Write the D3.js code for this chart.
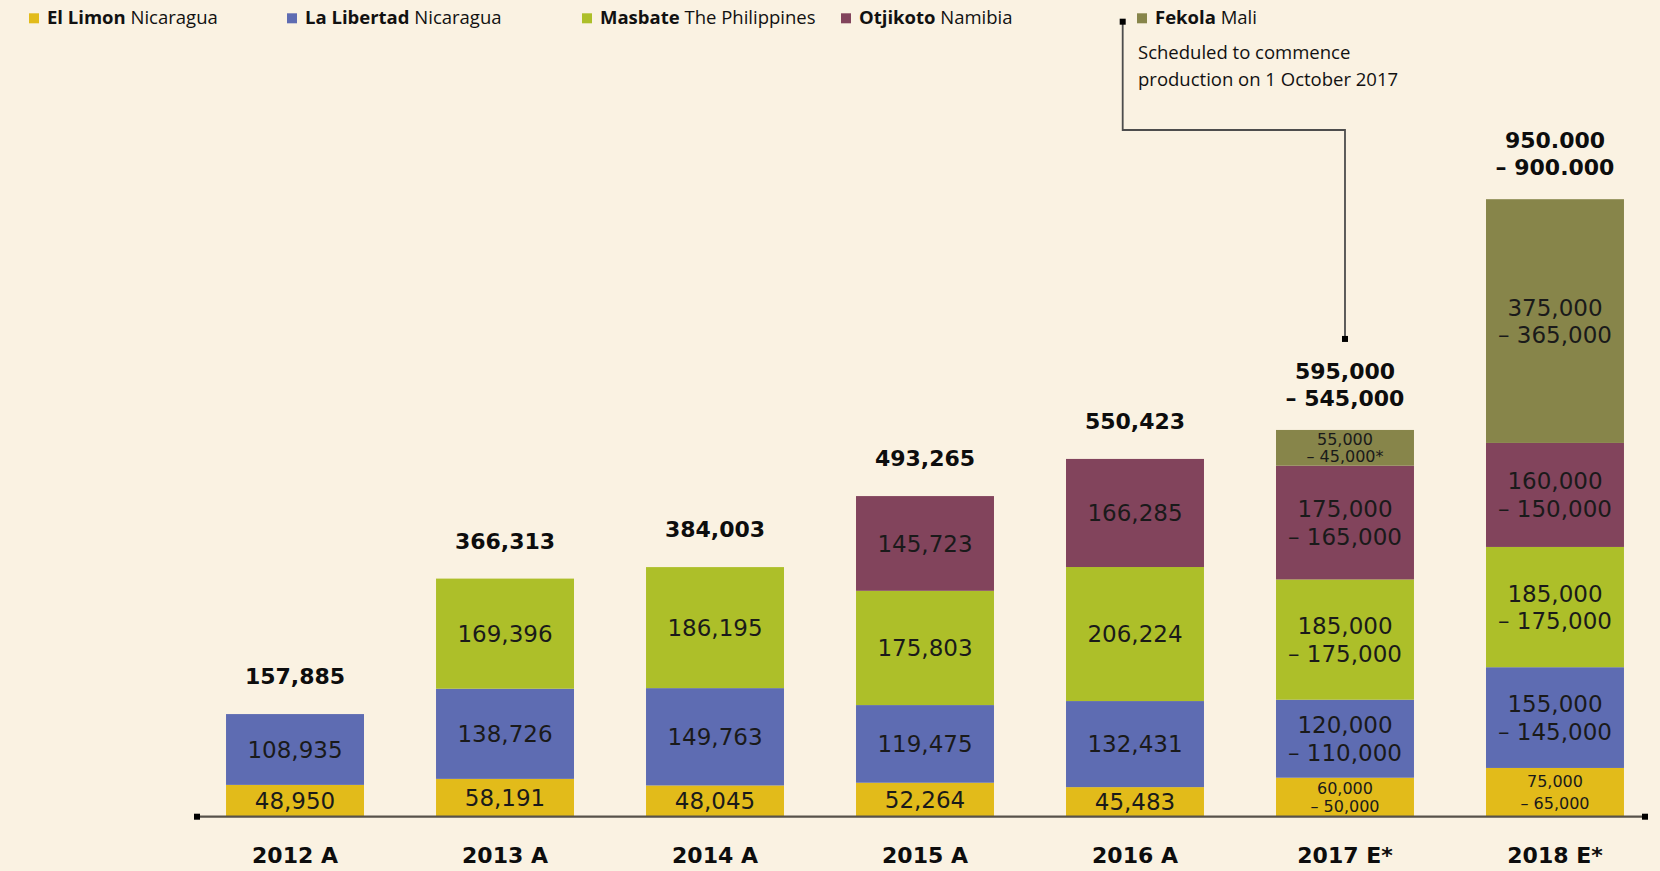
<!DOCTYPE html>
<html>
<head>
<meta charset="utf-8">
<script src="https://cdn.jsdelivr.net/npm/d3@7"></script>
<style>
  body { margin: 0; background: #faf2e2; }
  svg { display: block; }
</style>
</head>
<body>
<svg id="chart" width="1660" height="871"></svg>
<script>
// ---- data ----
const years = ["2012 A", "2013 A", "2014 A", "2015 A", "2016 A", "2017 E*", "2018 E*"];

const mineNames = ["El Limon", "La Libertad", "Masbate", "Otjikoto", "Fekola"];
const mineCountries = ["Nicaragua", "Nicaragua", "The Philippines", "Namibia", "Mali"];

// high end of each value (actuals have no range)
const elLimon    = [48950, 58191, 48045, 52264, 45483, 60000, 75000];
const laLibertad = [108935, 138726, 149763, 119475, 132431, 120000, 155000];
const masbate    = [0, 169396, 186195, 175803, 206224, 185000, 185000];
const otjikoto   = [0, 0, 0, 145723, 166285, 175000, 160000];
const fekola     = [0, 0, 0, 0, 0, 55000, 375000];

// low end of the guidance ranges
const elLimonLow    = [null, null, null, null, null, 50000, 65000];
const laLibertadLow = [null, null, null, null, null, 110000, 145000];
const masbateLow    = [null, null, null, null, null, 175000, 175000];
const otjikotoLow   = [null, null, null, null, null, 165000, 150000];
const fekolaLow     = [null, null, null, null, null, 45000, 365000];
const fekolaNote    = ["", "", "", "", "", "*", ""];

const totalLabels = [
  ["157,885"], ["366,313"], ["384,003"], ["493,265"], ["550,423"],
  ["595,000", "– 545,000"], ["950.000", "– 900.000"]
];

const fekolaText = ["Scheduled to commence", "production on 1 October 2017"];

// ---- styles ----
const colors = ["#e2bb1a", "#5e6cb2", "#adbf29", "#82445c", "#87854a"];
const keys = ["elLimon", "laLibertad", "masbate", "otjikoto", "fekola"];
const highs = [elLimon, laLibertad, masbate, otjikoto, fekola];
const lows = [elLimonLow, laLibertadLow, masbateLow, otjikotoLow, fekolaLow];

const numFont = "'DejaVu Sans', sans-serif";
const textFont = "'Open Sans', sans-serif";
const baseY = 816.7;

const svg = d3.select("#chart");
svg.append("rect").attr("width", 1660).attr("height", 871).attr("fill", "#faf2e2");

let rows = years.map((y, i) => {
  let r = { year: y, i: i };
  keys.forEach((k, j) => r[k] = highs[j][i]);
  return r;
});

let x = d3.scaleBand().domain(years).range([154, 1696]).padding(0.343);
let y = d3.scaleLinear().domain([0, 1000000]).range([baseY, baseY - 650]);

let stack = d3.stack().keys(keys);
let series = stack(rows);

const fmt = d3.format(",");

// bars
let layers = svg.append("g").selectAll("g")
  .data(series)
  .join("g")
  .attr("fill", (d, i) => colors[i]);

layers.selectAll("rect")
  .data(d => d.filter(p => p[1] - p[0] > 0))
  .join("rect")
  .attr("x", d => x(d.data.year))
  .attr("y", d => y(d[1]))
  .attr("width", x.bandwidth())
  .attr("height", d => y(d[0]) - y(d[1]));

// segment labels
let labelG = svg.append("g").attr("font-family", numFont).attr("fill", "#1a1a1a")
  .attr("text-anchor", "middle");

series.forEach((s, si) => {
  s.forEach(p => {
    if (p[1] - p[0] <= 0) return;
    let i = p.data.i;
    let cx = x(p.data.year) + x.bandwidth() / 2;
    let top = y(p[1]), bot = y(p[0]);
    let cy = (top + bot) / 2;
    let low = lows[si][i];
    let t = labelG.append("text");
    if (low == null) {
      let fs = 23;
      t.attr("font-size", fs).attr("x", cx).attr("y", cy + fs * 0.73 / 2).text(fmt(p[1] - p[0]));
    } else {
      let h = bot - top;
      let fs = h < 60 ? 16 : 23;
      let lh = h < 60 ? Math.min(22, h / 2 - 1) : 27.7;
      let cap = fs * 0.73;
      let first = cy - (lh + cap) / 2 + cap;
      let note = si === 4 ? fekolaNote[i] : "";
      t.attr("font-size", fs);
      t.append("tspan").attr("x", cx).attr("y", first).text(fmt(p[1] - p[0]));
      t.append("tspan").attr("x", cx).attr("y", first + lh).text("– " + fmt(low) + note);
    }
  });
});

// totals above bars
let tops = rows.map((r, i) => y(d3.sum(highs, h => h[i])));
let annotEndY = 0;
totalLabels.forEach((lines, i) => {
  let cx = x(years[i]) + x.bandwidth() / 2;
  let gap = lines.length > 1 ? 24 : 30;
  let lastBase = tops[i] - gap;
  let lh = 27;
  let t = svg.append("text").attr("font-family", numFont).attr("font-weight", "bold")
    .attr("font-size", 22).attr("text-anchor", "middle").attr("fill", "#0d0d0d");
  lines.forEach((l, k) => {
    t.append("tspan").attr("x", cx).attr("y", lastBase - (lines.length - 1 - k) * lh).text(l);
  });
  if (i === 5) annotEndY = lastBase - (lines.length - 1) * lh - 16 - 24;
});

// x axis line and year labels
let axisG = svg.append("g");
axisG.append("line").attr("x1", 197).attr("x2", 1645).attr("y1", baseY).attr("y2", baseY)
  .attr("stroke", "#57524a").attr("stroke-width", 2.2);
[197, 1645].forEach(px => axisG.append("rect").attr("x", px - 3).attr("y", baseY - 3)
  .attr("width", 6).attr("height", 6).attr("fill", "#000"));

svg.append("g").selectAll("text")
  .data(years)
  .join("text")
  .attr("x", d => x(d) + x.bandwidth() / 2)
  .attr("y", 862.7)
  .attr("text-anchor", "middle")
  .attr("font-family", numFont)
  .attr("font-weight", "bold")
  .attr("font-size", 22)
  .attr("fill", "#0d0d0d")
  .text(d => d);

// legend
const legendX = [29, 287, 582, 841, 1137];
let leg = svg.append("g").selectAll("g")
  .data(mineNames)
  .join("g")
  .attr("transform", (d, i) => `translate(${legendX[i]},0)`);
leg.append("rect").attr("y", 13.3).attr("width", 10).attr("height", 10)
  .attr("fill", (d, i) => colors[i]);
let lt = leg.append("text").attr("x", 18).attr("y", 24)
  .attr("font-family", textFont).attr("font-size", 18.5).attr("fill", "#111");
lt.append("tspan").attr("font-weight", "bold").text(d => d);
lt.append("tspan").text((d, i) => " " + mineCountries[i]);

let note = svg.append("text").attr("font-family", textFont).attr("font-size", 18.5).attr("fill", "#111");
fekolaText.forEach((l, k) => note.append("tspan").attr("x", 1138).attr("y", 59.3 + k * 26.7).text(l));

// annotation connector to 2017
let ax = x(years[5]) + x.bandwidth() / 2;
svg.append("path")
  .attr("d", `M1122.7,21.7 V130 H${ax} V${annotEndY}`)
  .attr("fill", "none").attr("stroke", "#4d4d4d").attr("stroke-width", 1.8);
[[1122.7, 21.7], [ax, annotEndY]].forEach(p => svg.append("rect")
  .attr("x", p[0] - 3).attr("y", p[1] - 3).attr("width", 6).attr("height", 6).attr("fill", "#000"));
</script>
</body>
</html>
